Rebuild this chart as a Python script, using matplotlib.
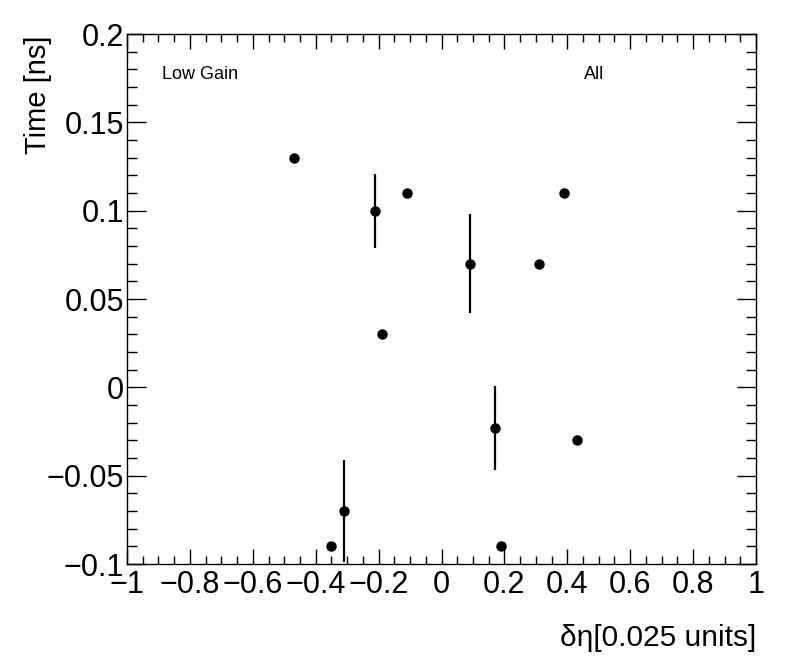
import matplotlib
matplotlib.use('Agg')
import matplotlib.pyplot as plt
import numpy as np
from matplotlib.ticker import MultipleLocator, FuncFormatter

plt.rcParams['font.family'] = ['Liberation Sans', 'DejaVu Sans']

# points
deta = [-0.47, -0.21, -0.11, -0.19, 0.09, 0.31, 0.39, 0.17, 0.43, -0.31, -0.35, 0.19]
time = [0.13, 0.10, 0.11, 0.03, 0.07, 0.07, 0.11, -0.023, -0.03, -0.07, -0.09, -0.09]
terr = [0.0, 0.021, 0.0, 0.0, 0.028, 0.0, 0.0, 0.024, 0.0, 0.029, 0.0, 0.0]

fig = plt.figure(figsize=(7.96, 6.72), dpi=100)
ax = fig.add_axes([127/796, 1-564/672, (756-127)/796, (564-34)/672])

ax.errorbar(deta, time, yerr=terr, fmt='o', color='black', ms=6.5,
            elinewidth=1.6, capsize=0, clip_on=True)

ax.set_xlim(-1, 1)
ax.set_ylim(-0.1, 0.2)
ax.xaxis.set_major_locator(MultipleLocator(0.2))
ax.xaxis.set_minor_locator(MultipleLocator(0.05))
ax.yaxis.set_major_locator(MultipleLocator(0.05))
ax.yaxis.set_minor_locator(MultipleLocator(0.01))

def fmt(v, pos):
    s = ('%.2f' % v).rstrip('0').rstrip('.')
    if s in ('-0', '0'):
        return '0'
    return s.replace('-', '\u2212')

ax.xaxis.set_major_formatter(FuncFormatter(fmt))
ax.yaxis.set_major_formatter(FuncFormatter(fmt))
ax.tick_params(which='both', direction='in', top=True, right=True, labelsize=22, width=1)
ax.tick_params(axis='x', which='major', length=11, pad=4)
ax.tick_params(axis='x', which='minor', length=6)
ax.tick_params(axis='y', which='major', length=14, pad=2)
ax.tick_params(axis='y', which='minor', length=7)
for s in ax.spines.values():
    s.set_linewidth(1)

ax.text(-0.89, 0.177, 'Low Gain', fontsize=13, va='center', ha='left')
ax.text(0.485, 0.177, 'All', fontsize=13, va='center', ha='center')

fig.text(756/796, 1-646/672, '\u03b4\u03b7[0.025 units]', fontsize=21.5, ha='right', va='baseline')
fig.text(38/796, 1-35/672, 'Time [ns]', fontsize=21, ha='center', va='top', rotation=90)

fig.savefig('out.png', dpi=100)
